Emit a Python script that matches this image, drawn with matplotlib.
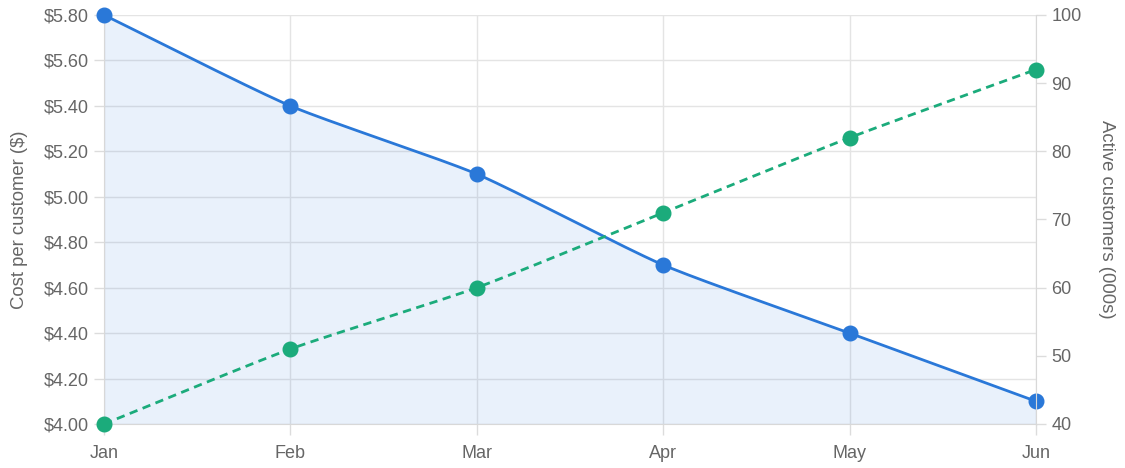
import matplotlib
matplotlib.use("Agg")
import matplotlib.pyplot as plt
import numpy as np

plt.rcParams['font.family'] = ['Liberation Sans', 'DejaVu Sans']

months = ['Jan', 'Feb', 'Mar', 'Apr', 'May', 'Jun']
cost = [5.80, 5.40, 5.10, 4.70, 4.40, 4.10]
customers = [40, 51, 60, 71, 82, 92]

blue = '#2a78d8'
green = '#1bab7b'
grid_c = '#e4e4e4'
text_c = '#666666'


def smooth(px, py, tension=0.2, n=30):
    # chart.js style bezier through points (pixel space)
    pts = np.column_stack([px, py])
    cps = []
    for i in range(len(pts)):
        prev = pts[max(i - 1, 0)]
        cur = pts[i]
        nxt = pts[min(i + 1, len(pts) - 1)]
        d01 = np.hypot(*(cur - prev))
        d12 = np.hypot(*(nxt - cur))
        tot = d01 + d12
        s01 = d01 / tot if tot else 0
        s12 = d12 / tot if tot else 0
        cp_prev = cur - tension * s01 * (nxt - prev)
        cp_next = cur + tension * s12 * (nxt - prev)
        cps.append((cp_prev, cp_next))
    out = [pts[0]]
    t = np.linspace(0, 1, n)[1:, None]
    for i in range(len(pts) - 1):
        p0, p3 = pts[i], pts[i + 1]
        p1, p2 = cps[i][1], cps[i + 1][0]
        seg = (1 - t) ** 3 * p0 + 3 * (1 - t) ** 2 * t * p1 + 3 * (1 - t) * t ** 2 * p2 + t ** 3 * p3
        out.extend(seg)
    out = np.array(out)
    return out[:, 0], out[:, 1]


fig = plt.figure(figsize=(11.25, 4.68), dpi=100)
ax = fig.add_axes([104 / 1125, 1 - 424 / 468, (1036 - 104) / 1125, (424 - 15) / 468])
ax2 = ax.twinx()

x = np.arange(len(months))
ax.set_xlim(0, len(months) - 1)
ax.set_ylim(4.0, 5.8)
ax2.set_ylim(40, 100)

# convert to pixel space for smoothing, then back
def curve(a, vals):
    disp = a.transData.transform(np.column_stack([x, vals]))
    sx, sy = smooth(disp[:, 0], disp[:, 1])
    back = a.transData.inverted().transform(np.column_stack([sx, sy]))
    return back[:, 0], back[:, 1]

cx, cy = curve(ax, cost)
ax.fill_between(cx, cy, 4.0, color=blue, alpha=0.1, lw=0, zorder=1)
ax.plot(cx, cy, color=blue, lw=2, zorder=3, solid_capstyle='round')
ax.plot(x, cost, 'o', color=blue, ms=10.5, zorder=4, clip_on=False)

gx, gy = curve(ax2, customers)
ax2.plot(gx, gy, color=green, lw=2, dashes=(3, 2), zorder=3)
ax2.plot(x, customers, 'o', color=green, ms=10.5, zorder=4, clip_on=False)

ax.set_xticks(x)
ax.set_xticklabels(months)
ax.set_yticks(np.arange(4.0, 5.81, 0.2))
ax.set_yticklabels(['$%.2f' % v for v in np.arange(4.0, 5.81, 0.2)])
ax2.set_yticks(np.arange(40, 101, 10))

ax.grid(True, color=grid_c, lw=1)
ax.set_axisbelow(True)

for a in (ax, ax2):
    for s in a.spines.values():
        s.set_visible(False)
    a.tick_params(colors='#dcdcdc', labelcolor=text_c, labelsize=13, length=7, width=1)
ax.spines['left'].set_visible(True)
ax.spines['left'].set_color('#d8d8d8')
ax.spines['bottom'].set_visible(True)
ax.spines['bottom'].set_color('#d8d8d8')
ax2.spines['right'].set_visible(True)
ax2.spines['right'].set_color('#d8d8d8')
ax.tick_params(axis='y', pad=4)
ax.tick_params(axis='x', length=8, pad=7)
ax2.tick_params(axis='y', pad=4)

ax.set_ylabel('Cost per customer ($)', color=text_c, fontsize=13.3, labelpad=11)
ax2.set_ylabel('Active customers (000s)', color=text_c, fontsize=13.3, rotation=-90, labelpad=24)

ax2.set_zorder(2)
ax.set_zorder(1)
ax.patch.set_visible(False)

fig.savefig('out.png', dpi=100)
